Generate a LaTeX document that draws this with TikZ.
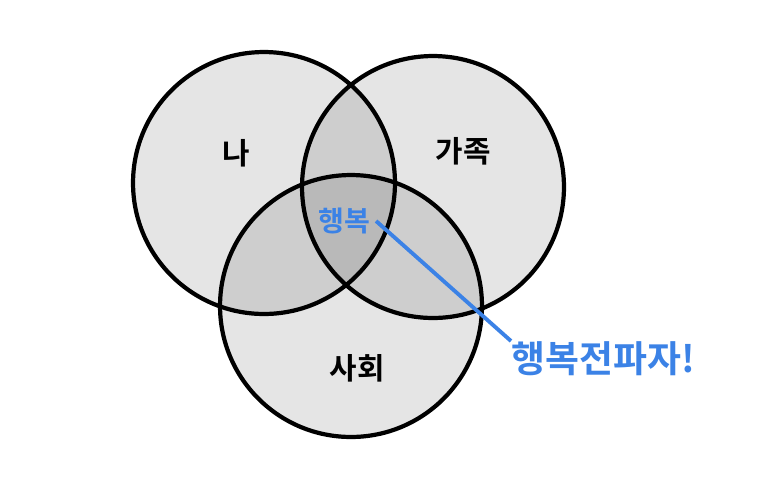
\documentclass[tikz,border=0pt]{standalone}
\usepackage{fontspec}
\usetikzlibrary{positioning,calc}
\newfontfamily\kor{Noto Sans CJK KR Bold}
\definecolor{bleuH}{HTML}{3B82E6}
\tikzset{
  cercle/.style={circle, draw=black, line width=2.4pt, fill=black, fill opacity=0.1,
                 text opacity=1, minimum size=5.24cm, inner sep=0pt},
  etiq/.style={font=\kor\fontsize{17}{17}\selectfont, text=black},
  bleu/.style={font=\kor\fontsize{16}{16}\selectfont, text=bleuH},
}

\begin{document}
\begin{tikzpicture}[x=0.02cm, y=-0.02cm]
        \useasboundingbox (0,0) rectangle (768,495);
        \node[cercle] (moi) at (264,183) {};
        \node[cercle] (fam) at (433,187) {};
        \node[cercle] (soc) at (351,306) {};
        \node[etiq] (n) at (236,153) {나};
        \node[etiq] (g) at (463,151) {가족};
        \node[etiq] (s) at (357,368) {사회};
        \node[bleu] (h) at (344,221) {행복};
        \node[bleu, font=\kor\fontsize{21}{21}\selectfont, anchor=north west, inner sep=0pt] (p) at (511,341) {행복전파자!};
        \draw[bleuH, line width=2.2pt] (h.east) -- (p.north west);
      \end{tikzpicture}
\end{document}
